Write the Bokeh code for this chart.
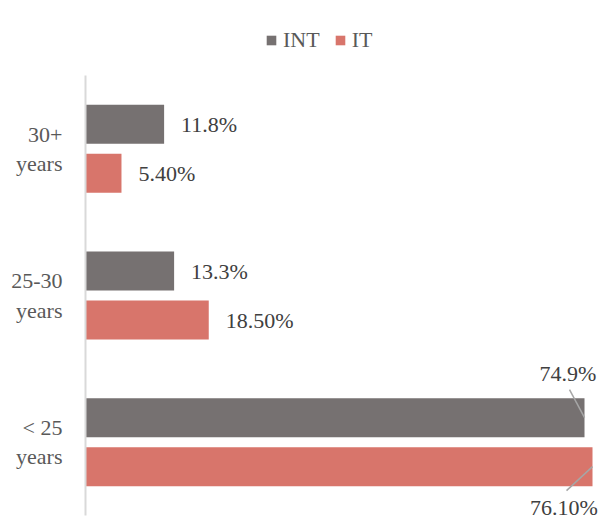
from bokeh.plotting import figure
from bokeh.layouts import column
from bokeh.models import FactorRange, Range1d, ColumnDataSource, LabelSet, Legend, LegendItem
from bokeh.core.properties import value
from bokeh.transform import dodge
from bokeh.embed import file_html
from bokeh.resources import INLINE

categories = ["< 25 years", "25-30 years", "30+ years"]
series = ["INT", "IT"]
int_values = [74.9, 13.3, 11.8]
it_values = [76.1, 18.5, 5.4]
int_labels = ["74.9%", "13.3%", "11.8%"]
it_labels = ["76.10%", "18.50%", "5.40%"]

INT_COLOR = "#767171"
IT_COLOR = "#D8756B"
FONT = "Liberation Serif"

X_END = 77.45
FRAME_W = 516
PX = FRAME_W / X_END   # pixels per unit on x
CAT_PX = 440 / 3.0     # pixels per category
BAR_H = 39 / CAT_PX
DODGE = 24.5 / CAT_PX

# category names wrapped onto two lines, as in the reference
factors = ["\n".join(c.rsplit(" ", 1)) for c in categories]
big = [v > 50 for v in int_values]

src = ColumnDataSource(dict(
    cat=factors,
    INT=int_values,
    IT=it_values,
    int_lab=int_labels,
    it_lab=it_labels,
    int_xoff=[-16.5 if b else 17 for b in big],
    int_yoff=[44 if b else 0 for b in big],
    int_align=["center" if b else "left" for b in big],
    it_xoff=[-28.5 if b else 17 for b in big],
    it_yoff=[-41 if b else 0 for b in big],
    it_align=["center" if b else "left" for b in big],
))

p = figure(width=601, height=455,
           y_range=FactorRange(factors=factors),
           x_range=Range1d(0, X_END),
           output_backend="svg", toolbar_location=None,
           min_border_left=85, min_border_right=0,
           min_border_top=8, min_border_bottom=7)
p.outline_line_color = None
p.grid.visible = False
p.xaxis.visible = False

ya = p.yaxis[0]
ya.axis_line_color = "#d9d9d9"
ya.axis_line_width = 2
ya.major_tick_line_color = None
ya.major_tick_in = 0
ya.major_tick_out = 0
ya.major_label_standoff = 23
ya.major_label_text_font = FONT
ya.major_label_text_font_size = "22px"
ya.major_label_text_color = "#595959"
ya.major_label_text_line_height = 1.17
ya.major_label_text_align = "center"

r_int = p.hbar(y=dodge("cat", DODGE, range=p.y_range), right="INT", height=BAR_H,
               source=src, fill_color=INT_COLOR, line_color=None)
r_it = p.hbar(y=dodge("cat", -DODGE, range=p.y_range), right="IT", height=BAR_H,
              source=src, fill_color=IT_COLOR, line_color=None)

# leader lines for the labels placed outside the long bars
lead_int = ColumnDataSource(dict(
    cat=[c for c, b in zip(factors, big) if b],
    x0=[v for v, b in zip(int_values, big) if b],
    x1=[v - 15 / PX for v, b in zip(int_values, big) if b],
))
lead_it = ColumnDataSource(dict(
    cat=[c for c, b in zip(factors, big) if b],
    x0=[v for v, b in zip(it_values, big) if b],
    x1=[v - 26 / PX for v, b in zip(it_values, big) if b],
))
p.segment(x0="x0", x1="x1", y0=dodge("cat", DODGE, range=p.y_range),
          y1=dodge("cat", DODGE + 28 / CAT_PX, range=p.y_range),
          source=lead_int, line_color="#a6a6a6", line_width=1.5)
p.segment(x0="x0", x1="x1", y0=dodge("cat", -DODGE, range=p.y_range),
          y1=dodge("cat", -DODGE - 24 / CAT_PX, range=p.y_range),
          source=lead_it, line_color="#a6a6a6", line_width=1.5)

common = dict(source=src, text_font=value(FONT), text_font_size="22px", text_color="#404040",
              text_baseline="middle")
p.add_layout(LabelSet(x="INT", y=dodge("cat", DODGE, range=p.y_range), text="int_lab",
                      x_offset="int_xoff", y_offset="int_yoff", text_align="int_align", **common))
p.add_layout(LabelSet(x="IT", y=dodge("cat", -DODGE, range=p.y_range), text="it_lab",
                      x_offset="it_xoff", y_offset="it_yoff", text_align="it_align", **common))

# legend strip above the chart (its bars are hidden; only the legend shows)
lf = figure(width=601, height=67, x_axis_location=None, y_axis_location=None,
            y_range=FactorRange(factors=factors), x_range=Range1d(0, X_END),
            output_backend="svg", toolbar_location=None,
            min_border_left=0, min_border_right=0, min_border_top=0, min_border_bottom=0)
lf.outline_line_color = None
lf.grid.visible = False
lg_int = lf.hbar(y="cat", right="INT", height=BAR_H, source=src,
                 fill_color=INT_COLOR, line_color=None, visible=False)
lg_it = lf.hbar(y="cat", right="IT", height=BAR_H, source=src,
                fill_color=IT_COLOR, line_color=None, visible=False)
legend = Legend(items=[LegendItem(label=series[0], renderers=[lg_int]),
                       LegendItem(label=series[1], renderers=[lg_it])],
                orientation="horizontal", location=(180, 14),
                border_line_color=None, background_fill_alpha=0,
                inactive_fill_alpha=0,
                label_text_font=FONT, label_text_font_size="22px", label_text_color="#595959",
                glyph_width=12, glyph_height=12, label_standoff=6, spacing=14,
                padding=0, margin=0)
lf.add_layout(legend, "center")

layout = column(lf, p, spacing=0)
open("out.html", "w").write(file_html(layout, INLINE))
